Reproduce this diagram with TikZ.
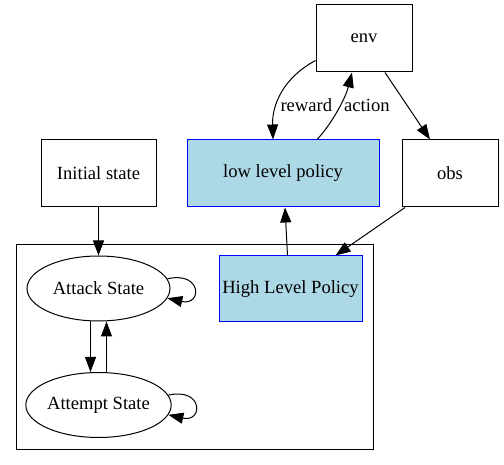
\documentclass[tikz,border=0pt]{standalone}
\usepackage{xcolor}
\usepackage{fontspec}
\setmainfont{Liberation Serif}
\usetikzlibrary{shapes.geometric,arrows.meta,positioning}

\definecolor{lightblue}{HTML}{ADD8E6}

\begin{document}
\begin{tikzpicture}[
  x=1pt, y=-1pt,
  every node/.style={font=\fontsize{18.6}{22}\selectfont},
  box/.style={draw, line width=1pt, align=center, inner sep=0pt,
              minimum height=67pt, minimum width=96pt},
  pol/.style={box, draw=blue, fill=lightblue},
  st/.style={draw, ellipse, line width=1pt, inner sep=0pt,
             minimum width=143pt, minimum height=65pt},
  lbl/.style={inner sep=3pt},
  arr/.style={-{Triangle[length=15pt, width=11pt]}, line width=1pt}]

  \useasboundingbox (0,0) rectangle (504,465);

  \node[box] (env) at (364,38.5) {env};
  \node[pol, minimum width=192pt] (low) at (283,173.5) {low level policy};
  \node[box] (obs) at (450,173.5) {obs};
  \node[box, minimum width=115pt] (init) at (98.5,173.5) {Initial state};

  % cluster
  \node[draw, line width=1pt, inner sep=0pt, minimum width=357pt,
        minimum height=204pt] (cluster) at (194.5,347) {};
  \node[st] (attack) at (98.5,288.5) {Attack State};
  \node[st] (attempt) at (98.5,405) {Attempt State};
  \node[pol, minimum width=143pt, minimum height=66pt] (hlp) at (290.5,289)
       {High Level Policy};

  \draw[arr] ([yshift=-22pt]env.west) .. controls (283,78) and (272,105)
       .. ([xshift=-10pt]low.north) node[lbl, pos=0.64, anchor=west] {reward};
  \draw[arr] ([xshift=34pt]low.north) .. controls (330,126) and (345,100)
       .. ([xshift=-12pt]env.south) node[lbl, pos=0.58, anchor=west, inner sep=4pt] {action};
  \draw[arr] ([xshift=21pt]env.south) -- ([xshift=-20pt]obs.north);
  \draw[arr] ([xshift=-45pt]obs.south) -- ([xshift=45pt]hlp.north);
  \draw[arr] ([xshift=-3pt]hlp.north) -- ([xshift=2pt]low.south);
  \draw[arr] (init) -- (attack);
  \draw[arr] ([xshift=-8pt]attack.south) -- ([xshift=-8pt]attempt.north);
  \draw[arr] ([xshift=8pt]attempt.north) -- ([xshift=8pt]attack.south);
  \draw[arr] (attack.8) .. controls +(35,-8) and +(35,8) .. (attack.-8);
  \draw[arr] (attempt.8) .. controls +(35,-8) and +(35,8) .. (attempt.-8);
\end{tikzpicture}
\end{document}
